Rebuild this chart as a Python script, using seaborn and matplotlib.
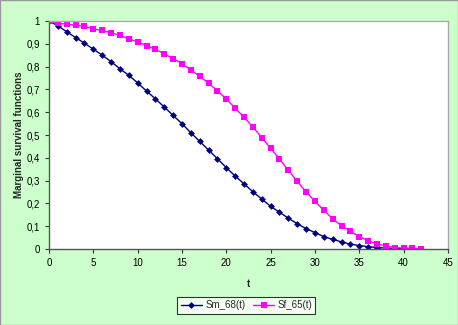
import pandas as pd
import matplotlib
matplotlib.use("Agg")
import matplotlib.pyplot as plt
from matplotlib.ticker import FuncFormatter, MultipleLocator
import seaborn as sns

# t values and the two marginal survival curves
t = list(range(0, 43))
sm_68 = [1.0, 0.98, 0.953, 0.928, 0.903, 0.877, 0.851, 0.822, 0.791, 0.762,
         0.729, 0.693, 0.659, 0.623, 0.586, 0.55, 0.51, 0.472, 0.434, 0.396,
         0.357, 0.32, 0.286, 0.251, 0.219, 0.187, 0.161, 0.135, 0.111, 0.089,
         0.072, 0.054, 0.042, 0.031, 0.021, 0.015, 0.01, 0.006, 0.004, 0.002,
         0.001, 0.0005, 0.0002]
sf_65 = [1.0, 0.99, 0.987, 0.982, 0.977, 0.966, 0.959, 0.949, 0.937, 0.922,
         0.909, 0.893, 0.876, 0.857, 0.835, 0.814, 0.786, 0.757, 0.728, 0.694,
         0.658, 0.618, 0.578, 0.535, 0.489, 0.441, 0.395, 0.345, 0.297, 0.251,
         0.209, 0.17, 0.132, 0.102, 0.078, 0.054, 0.036, 0.022, 0.013, 0.006,
         0.004, 0.002, 0.0]

sns.set_style("white")
plt.rcParams['font.family'] = ['Liberation Sans', 'DejaVu Sans']

df = pd.DataFrame({'t': t, 'Sm_68(t)': sm_68, 'Sf_65(t)': sf_65})

fig = plt.figure(figsize=(4.58, 3.25), dpi=100, facecolor='#CCFFCC')
ax = fig.add_axes([0.107, 0.234, 0.871, 0.701])
ax.set_facecolor('white')

sns.lineplot(data=df, x='t', y='Sm_68(t)', ax=ax, color='#000080', marker='D',
             markersize=3.5, markeredgewidth=0, linewidth=1, label='Sm_68(t)')
sns.lineplot(data=df, x='t', y='Sf_65(t)', ax=ax, color='#FF00FF', marker='s',
             markersize=4, markeredgewidth=0, linewidth=1, label='Sf_65(t)')

ax.set_xlim(0, 45)
ax.set_ylim(0, 1)
ax.xaxis.set_major_locator(MultipleLocator(5))
ax.yaxis.set_major_locator(MultipleLocator(0.1))
ax.yaxis.set_major_formatter(FuncFormatter(lambda v, p: ('%g' % round(v, 1)).replace('.', ',')))
ax.tick_params(axis='both', direction='out', length=3, width=0.8, labelsize=7,
               colors='#333333', labelcolor='black', left=True, bottom=True)

for side in ['left', 'bottom']:
    ax.spines[side].set_color('#555555')
    ax.spines[side].set_linewidth(1)
for side in ['top', 'right']:
    ax.spines[side].set_color('#AAAAAA')
    ax.spines[side].set_linewidth(1)

ax.set_xlabel('t', fontsize=7, fontweight='bold', labelpad=8)
ax.set_ylabel('Marginal survival functions', fontsize=7, fontweight='bold')
ax.yaxis.set_label_coords(-0.063, 0.5)

ax.get_legend().remove()
handles, labels = ax.get_legend_handles_labels()
leg = fig.legend(handles, labels, loc='center', bbox_to_anchor=(0.538, 0.06), ncol=2,
                 fontsize=7, frameon=True, fancybox=False, edgecolor='black',
                 handlelength=2.2, columnspacing=0.8, handletextpad=0.3,
                 borderpad=0.35)
leg.get_frame().set_linewidth(0.8)
leg.get_frame().set_facecolor('white')

fig.patches.append(plt.Rectangle((0, 0), 1, 1, transform=fig.transFigure,
                                 fill=False, edgecolor='#999999', linewidth=1))

plt.savefig('out.png', dpi=100, facecolor=fig.get_facecolor())
